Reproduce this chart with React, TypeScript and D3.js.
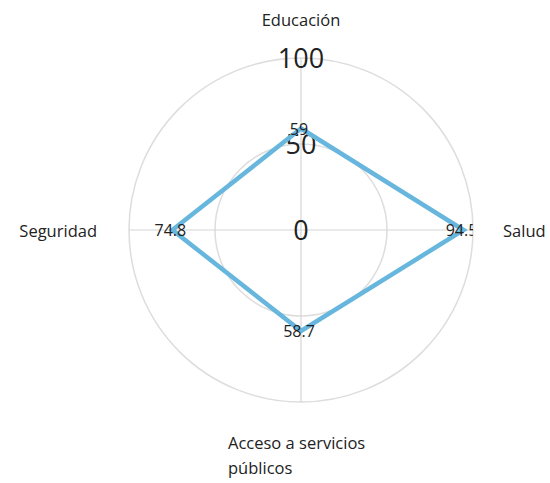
import * as d3 from "d3";
import { useRef, useEffect } from "react";

const categories = ["Educación", "Salud", "Acceso a servicios públicos", "Seguridad"];
const values = [59, 94.5, 58.7, 74.8];
const ticks = [0, 50, 100];

const W = 550;
const H = 483;
const cx = 301;
const cy = 230;
const R = 172;
const font = "'Open Sans', 'Noto Sans', sans-serif";

const App = () => {
    const ref = useRef<SVGSVGElement>(null);

    useEffect(() => {
        const svg = d3.select(ref.current);
        svg.selectAll("*").remove();

        const r = d3.scaleLinear().domain([0, 100]).range([0, R]);
        const angle = d3.scaleLinear().domain([0, categories.length]).range([0, 2 * Math.PI]);
        const g = svg.append("g").attr("transform", `translate(${cx},${cy})`);

        svg.append("defs").append("clipPath").attr("id", "clip")
           .append("circle").attr("cx", cx).attr("cy", cy).attr("r", R);

        // grid circles
        g.selectAll(".ring")
         .data(ticks.filter(t => t > 0))
         .enter()
         .append("circle")
         .attr("r", d => r(d))
         .attr("fill", "none")
         .attr("stroke", "#dddddd")
         .attr("stroke-width", 1.5);

        // spokes
        categories.forEach((c, i) => {
            const a = angle(i);
            g.append("line")
             .attr("x1", 0).attr("y1", 0)
             .attr("x2", Math.sin(a) * r(100))
             .attr("y2", -Math.cos(a) * r(100))
             .attr("stroke", "#d6d6d6")
             .attr("stroke-width", 1.2);
        });

        // tick labels
        g.selectAll(".tick")
         .data(ticks)
         .enter()
         .append("text")
         .attr("x", 0)
         .attr("y", d => -r(d) + 10)
         .attr("text-anchor", "middle")
         .style("font-family", font)
         .style("font-size", "27px")
         .attr("fill", "#222")
         .text(d => d);

        // data line
        const line = d3.lineRadial<number>()
            .angle((d, i) => angle(i))
            .radius(d => r(d))
            .curve(d3.curveLinearClosed);

        g.append("path")
         .attr("d", line(values))
         .attr("fill", "none")
         .attr("stroke", "#66b6dd")
         .attr("stroke-width", 4.5)
         .attr("stroke-linejoin", "miter");

        // value labels
        const vg = svg.append("g").attr("clip-path", "url(#clip)")
            .append("g").attr("transform", `translate(${cx},${cy})`);
        values.forEach((v, i) => {
            const a = angle(i);
            vg.append("text")
              .attr("x", Math.sin(a) * r(v) - 2)
              .attr("y", -Math.cos(a) * r(v) + 6)
              .attr("text-anchor", "middle")
              .style("font-family", font)
              .style("font-size", "16px")
              .attr("fill", "#222")
              .text(v);
        });

        // category labels
        const lab = (text: string, x: number, y: number, anchor: string) =>
            svg.append("text")
               .attr("x", x).attr("y", y)
               .attr("text-anchor", anchor)
               .style("font-family", font)
               .style("font-size", "16.5px")
               .attr("fill", "#222")
               .text(text);

        lab(categories[0], cx, 26, "middle");
        lab(categories[1], cx + R + 30, cy + 7, "start");
        lab(categories[3], cx - R - 32, cy + 7, "end");
        const words = categories[2].split(" ");
        lab(words.slice(0, 3).join(" "), 228, 449, "start");
        lab(words.slice(3).join(" "), 228, 474, "start");
    }, []);

    return <svg ref={ref} width={W} height={H} style={{ position: "absolute", left: 0, top: 0 }} />;
};

export default App;
